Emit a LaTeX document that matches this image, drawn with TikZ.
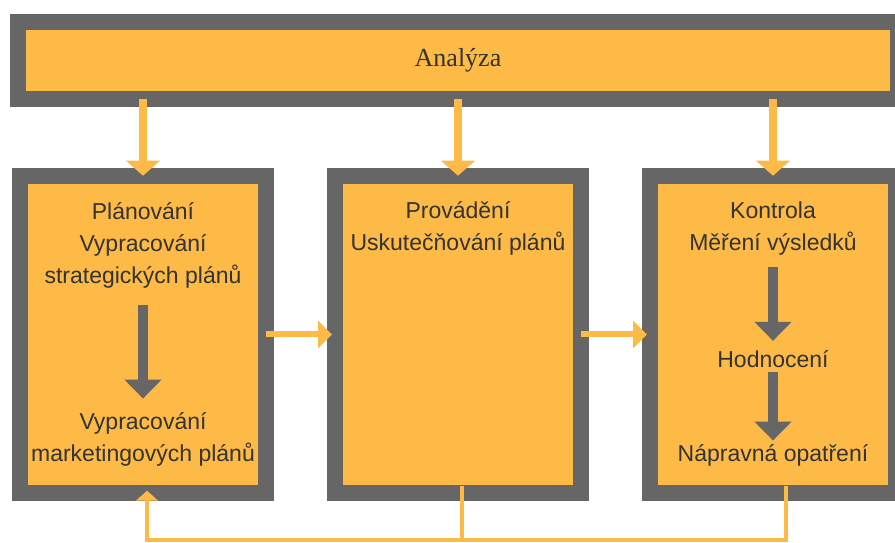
\documentclass[tikz,border=0pt]{standalone}
\usepackage{fontspec}
\setmainfont{Liberation Sans}
\newfontfamily\anafont{Liberation Serif}
\usetikzlibrary{arrows.meta}
\definecolor{boxfill}{RGB}{253,186,71}
\definecolor{boxline}{RGB}{102,102,102}
\definecolor{textgray}{RGB}{51,51,51}

\begin{document}
\begin{tikzpicture}[x=1pt, y=1pt,
    panel/.style ={draw=boxline, fill=boxfill, line width=16pt, outer sep=0pt,
                   minimum width=246pt, minimum height=317.5pt},
    boxtext/.style ={text=textgray, align=center, font=\fontsize{23}{32}\selectfont},
    feed/.style ={draw=boxfill, line width=8pt, -{Triangle[width=33pt,length=15pt]}},
    pass/.style ={draw=boxfill, line width=6pt, -{Triangle[width=27pt,length=14pt]}},
    fback/.style ={draw=boxfill, line width=3.5pt},
    inner/.style ={draw=boxline, line width=10pt, -{Triangle[width=36pt,length=19pt]}}]
   \useasboundingbox (0,0) rectangle (895,543);
   \clip (0,0) rectangle (895,543);
   \node[panel, minimum width=880pt, minimum height=77pt, text=textgray,
         font=\anafont\fontsize{26}{26}\selectfont] (ana) at (458,482.5) {Analýza};
   \node[panel] (plan) at (143,208.5) {};
   \node[panel] (exec) at (458,208.5) {};
   \node[panel] (ctrl) at (773,208.5) {};
   % texts in the boxes
   \node[boxtext] (planA) at (143,298) {Plánování\\Vypracování\\strategických plánů};
   \node[boxtext] (planB) at (143,104) {Vypracování\\marketingových plánů};
   \node[boxtext] (execA) at (458,315) {Provádění\\Uskutečňování plánů};
   \node[boxtext] (ctrlA) at (773,314) {Kontrola\\Měření výsledků};
   \node[boxtext] (ctrlB) at (773,184) {Hodnocení};
   \node[boxtext] (ctrlC) at (773,88) {Nápravná opatření};
   % arrows
   \foreach \b in {plan,exec,ctrl}
      \draw[feed] (ana.south -| \b.north) -- (\b.north);
   \draw[pass, shorten >=3pt] (plan.east) -- (exec.west);
   \draw[pass, shorten >=3pt] (exec.east) -- (ctrl.west);
   \draw[inner, shorten <=14pt, shorten >=10pt] (planA.south) -- (planB.north);
   \draw[inner, shorten <=8pt, shorten >=6pt] (ctrlA.south) -- (ctrlB.north);
   \draw[inner, shorten <=1pt] (ctrlB.south) -- (ctrlC.north);
   % feedback
   \coordinate (fbl) at (147,3);
   \coordinate (fbm) at (462,3);
   \draw[fback] ([xshift=4pt,yshift=7.5pt]exec.south) -- (fbm);
   \draw[fback, -{Triangle[width=22pt,length=10pt]}]
      ([xshift=13pt,yshift=7.5pt]ctrl.south) |- (fbl) -- ([xshift=4pt,yshift=2.5pt]plan.south);
\end{tikzpicture}
\end{document}
